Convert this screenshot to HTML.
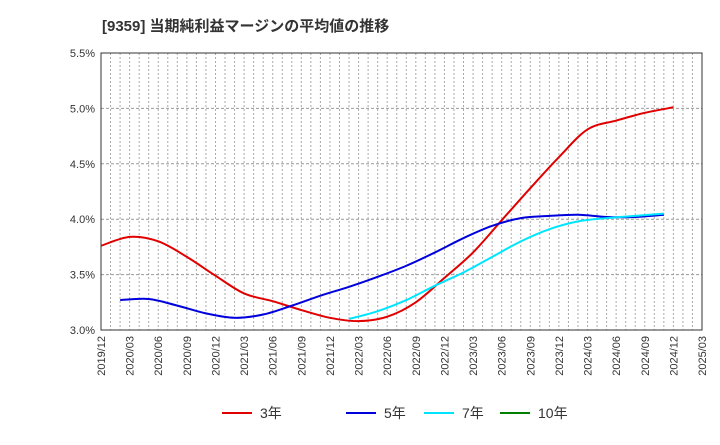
<!DOCTYPE html>
<html><head><meta charset="utf-8"><style>
body{margin:0;background:#fff;font-family:"Liberation Sans","Noto Sans CJK JP",sans-serif}
</style></head><body>
<svg id="c" width="720" height="440" xmlns="http://www.w3.org/2000/svg">
<text x="102" y="31" font-size="15" font-weight="bold" fill="#333" font-family="Liberation Sans, Noto Sans CJK JP, sans-serif">[9359]  当期純利益マージンの平均値の推移</text>
<g id="grid"></g><g id="axes"></g><g id="series"></g><g id="legend"></g>
</svg>
<script>
const xLabels=["2019/12","2020/03","2020/06","2020/09","2020/12","2021/03","2021/06","2021/09","2021/12","2022/03","2022/06","2022/09","2022/12","2023/03","2023/06","2023/09","2023/12","2024/03","2024/06","2024/09","2024/12","2025/03"];
const yTicks=[3.0,3.5,4.0,4.5,5.0,5.5];
const s3=[3.76,3.84,3.80,3.66,3.49,3.33,3.26,3.18,3.11,3.08,3.12,3.25,3.47,3.70,3.99,4.28,4.56,4.81,4.89,4.96,5.01];
const s3start=0;
const s5=[3.27,3.28,3.22,3.15,3.11,3.14,3.22,3.31,3.39,3.48,3.58,3.70,3.83,3.94,4.01,4.03,4.04,4.02,4.02,4.04];
const s5start=0.67;
const s7=[3.10,3.17,3.27,3.40,3.52,3.66,3.80,3.91,3.98,4.01,4.03,4.05];
const s7start=8.67;
const NS="http://www.w3.org/2000/svg";
const L=101,R=702,T=53,B=330;
const xq=i=>L+(R-L)*i/21;
const xm=m=>L+(R-L)*m/63;
const y=v=>B-(v-3.0)/(5.5-3.0)*(B-T);
function mk(p,tag,a){const e=document.createElementNS(NS,tag);for(const k in a)e.setAttribute(k,a[k]);p.appendChild(e);return e;}
const g=document.getElementById('grid'),ax=document.getElementById('axes'),se=document.getElementById('series'),lg=document.getElementById('legend');
for(let m=1;m<63;m++){const l=mk(g,'line',{x1:xm(m),x2:xm(m),y1:T,y2:B,stroke:'#aaa','stroke-dasharray':'2,2','stroke-width':1});

}
yTicks.forEach(v=>{if(v>3.0){const l=mk(g,'line',{x1:L,x2:R,y1:y(v),y2:y(v),stroke:'#999','stroke-dasharray':'3,2','stroke-width':1});

}
const t=mk(ax,'text',{x:L-6,y:y(v)+4,'text-anchor':'end','font-size':11,fill:'#333'});t.textContent=v.toFixed(1)+'%';

});
const fr=mk(ax,'rect',{x:L,y:T,width:R-L,height:B-T,fill:'none',stroke:'#333','stroke-width':1});


xLabels.forEach((s,i)=>{const t=mk(ax,'text',{transform:`translate(${xq(i)+4},${B+6}) rotate(-90)`,'text-anchor':'end','font-size':11,fill:'#333'});t.textContent=s;

});
function path(arr,st){const p=arr.map((v,i)=>[xq(st+i),y(v)]);let d=`M${p[0][0]},${p[0][1]}`;
for(let i=0;i<p.length-1;i++){const p0=p[i-1]||p[i],p1=p[i],p2=p[i+1],p3=p[i+2]||p2;
d+=` C${p1[0]+(p2[0]-p0[0])/6},${p1[1]+(p2[1]-p0[1])/6} ${p2[0]-(p3[0]-p1[0])/6},${p2[1]-(p3[1]-p1[1])/6} ${p2[0]},${p2[1]}`;}return d;}
[[s3,s3start,'#e00000','series-3yr'],[s5,s5start,'#0000dd','series-5yr'],[s7,s7start,'#00e5ff','series-7yr']].forEach(([a,st,c,n])=>{
const e=mk(se,'path',{d:path(a,st),fill:'none',stroke:c,'stroke-width':2});

});
[['3年','#e00000',222],['5年','#0000dd',346],['7年','#00e5ff',424],['10年','#008000',500]].forEach(([t,c,x])=>{
const l=mk(lg,'line',{x1:x,x2:x+30,y1:413,y2:413,stroke:c,'stroke-width':2});


const tx=mk(lg,'text',{x:x+38,y:418,'font-size':14,fill:'#333'});tx.textContent=t;

});
</script>
</body></html>
